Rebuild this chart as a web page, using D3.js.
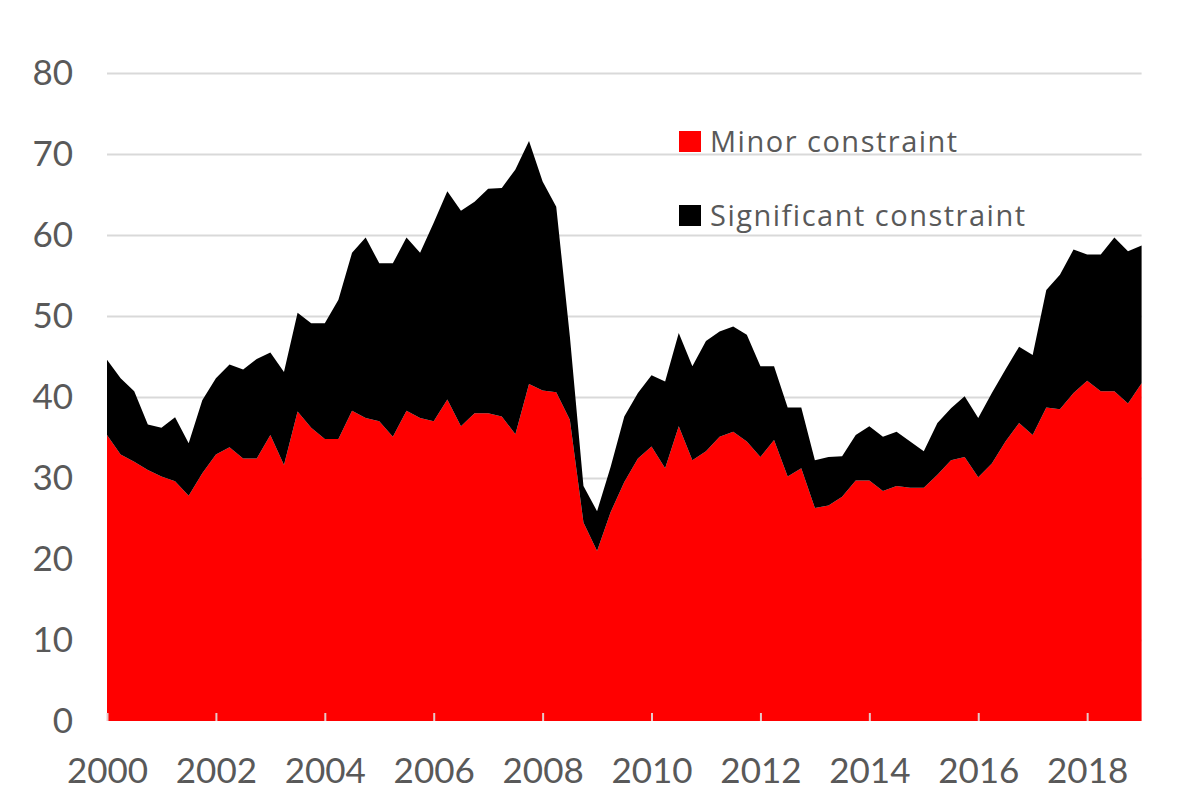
<!DOCTYPE html>
<html>
<head>
<meta charset="utf-8">
<script src="https://cdn.jsdelivr.net/npm/d3@7"></script>
<style>
  body { margin: 0; background: #fff; }
  text { font-family: Lato, "Open Sans", sans-serif; }
</style>
</head>
<body>
<svg id="chart" width="1200" height="800"></svg>
<script>
// quarterly, 2000 Q1 .. 2019 Q1
const startYear = 2000;
const minor = [
  35.3, 32.9, 32.0, 31.0, 30.2, 29.6, 27.8, 30.6,
  32.9, 33.8, 32.4, 32.4, 35.3, 31.6, 38.2, 36.2,
  34.8, 34.8, 38.3, 37.4, 37.0, 35.1, 38.3, 37.4,
  37.0, 39.7, 36.4, 38.0, 38.0, 37.6, 35.4, 41.6,
  40.8, 40.6, 37.2, 24.5, 21.0, 25.8, 29.5, 32.4,
  33.9, 31.2, 36.4, 32.2, 33.3, 35.1, 35.7, 34.5,
  32.6, 34.7, 30.2, 31.2, 26.3, 26.6, 27.7, 29.7,
  29.7, 28.4, 29.0, 28.8, 28.8, 30.4, 32.2, 32.6,
  30.1, 31.8, 34.5, 36.8, 35.3, 38.7, 38.5, 40.5,
  42.0, 40.7, 40.7, 39.2, 41.7
];
const total = [
  44.6, 42.3, 40.7, 36.6, 36.2, 37.5, 34.3, 39.6,
  42.3, 44.0, 43.4, 44.7, 45.5, 43.1, 50.4, 49.1,
  49.1, 52.0, 57.8, 59.7, 56.5, 56.5, 59.7, 57.8,
  61.5, 65.4, 63.0, 64.1, 65.7, 65.8, 68.1, 71.6,
  66.6, 63.5, 47.5, 29.0, 25.9, 31.4, 37.6, 40.5,
  42.7, 41.9, 47.9, 43.8, 46.9, 48.1, 48.7, 47.7,
  43.8, 43.8, 38.7, 38.7, 32.2, 32.6, 32.7, 35.3,
  36.4, 35.1, 35.7, 34.5, 33.3, 36.8, 38.6, 40.1,
  37.4, 40.5, 43.4, 46.2, 45.2, 53.2, 55.1, 58.2,
  57.6, 57.6, 59.7, 58.0, 58.7
];
const significant = total.map((t, i) => +(t - minor[i]).toFixed(1));
const yTicks = [0, 10, 20, 30, 40, 50, 60, 70, 80];
const yearLabels = [2000, 2002, 2004, 2006, 2008, 2010, 2012, 2014, 2016, 2018];
const seriesNames = ["Minor constraint", "Significant constraint"];
const colors = ["#ff0000", "#000000"];

const svg = d3.select("#chart");
const plot = { left: 107, right: 1141.6, top: 73, bottom: 721 };

const rows = minor.map((m, i) => ({ q: i, minor: m, significant: significant[i] }));
const stacked = d3.stack().keys(["minor", "significant"])(rows);

const x = d3.scaleLinear().domain([0, minor.length - 1]).range([plot.left, plot.right]);
const y = d3.scaleLinear().domain([0, 80]).range([plot.bottom, plot.top]);

// gridlines
svg.append("g")
  .attr("transform", `translate(${plot.left},0)`)
  .call(d3.axisLeft(y).tickValues(yTicks.slice(1)).tickSize(-(plot.right - plot.left)).tickFormat(""))
  .call(g => g.select(".domain").remove())
  .selectAll("line")
  .attr("stroke", "#d9d9d9")
  .attr("stroke-width", 2);

const area = d3.area()
  .x(d => x(d.data.q))
  .y0(d => y(d[0]))
  .y1(d => y(d[1]));

svg.append("g").selectAll("path")
  .data(stacked)
  .join("path")
  .attr("d", area)
  .attr("fill", (d, i) => colors[i]);

// y labels
svg.append("g")
  .attr("transform", `translate(${plot.left},0)`)
  .call(d3.axisLeft(y).tickValues(yTicks).tickSize(0).tickPadding(34))
  .call(g => g.select(".domain").remove())
  .selectAll("text")
  .attr("font-size", "35px")
  .attr("fill", "#595959")
  .style("font-family", "Lato, 'Open Sans', sans-serif");

// x axis, ticks point up into the area
svg.append("g")
  .attr("transform", `translate(0,${plot.bottom})`)
  .call(d3.axisBottom(x)
    .tickValues(yearLabels.map(yr => (yr - startYear) * 4))
    .tickFormat(q => startYear + q / 4)
    .tickSize(-8).tickPadding(37))
  .call(g => g.select(".domain").remove())
  .call(g => g.selectAll("line").attr("stroke", "#e6c8c8").attr("stroke-width", 2))
  .selectAll("text")
  .attr("font-size", "35px")
  .attr("fill", "#595959")
  .style("font-family", "Lato, 'Open Sans', sans-serif");

// legend
const legend = svg.append("g").attr("transform", "translate(679,131)");
const items = legend.selectAll("g")
  .data(seriesNames)
  .join("g")
  .attr("transform", (d, i) => `translate(0,${i * 74})`);
items.append("rect")
  .attr("width", 22).attr("height", 21)
  .attr("fill", (d, i) => colors[i]);
items.append("text")
  .attr("x", 31).attr("y", 21)
  .attr("font-size", "29px")
  .attr("fill", "#595959")
  .style("font-family", "'Open Sans', Lato, sans-serif")
  .style("letter-spacing", "1.5px")
  .text(d => d);
</script>
</body>
</html>
